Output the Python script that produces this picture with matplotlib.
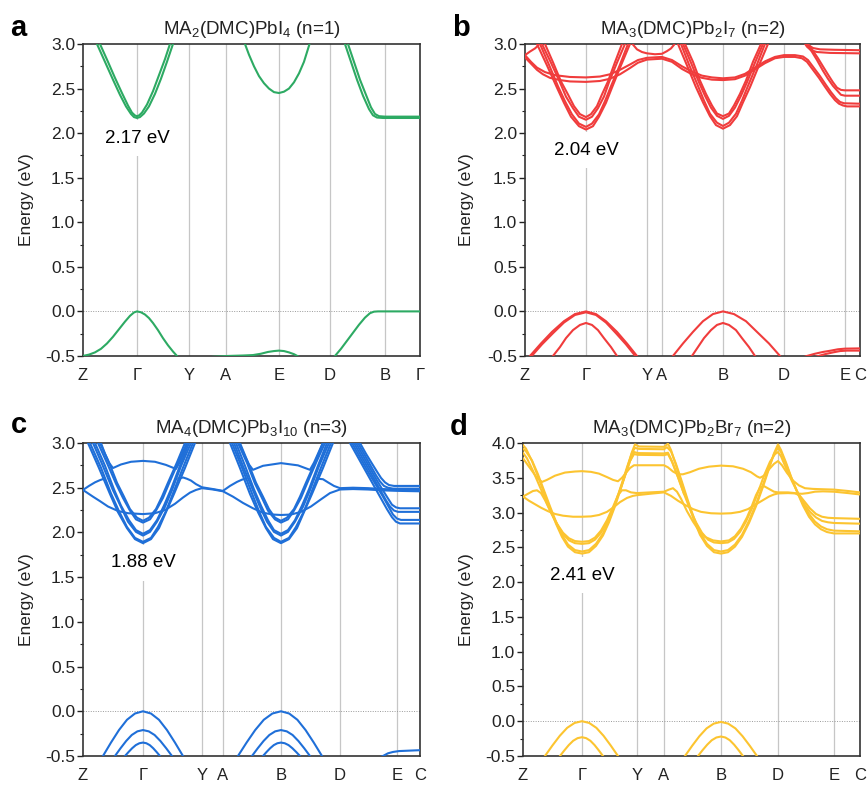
import matplotlib
matplotlib.use("Agg")
import matplotlib.pyplot as plt
from matplotlib.ticker import MultipleLocator, FormatStrFormatter

plt.rcParams["font.family"] = ["Liberation Sans", "DejaVu Sans"]
plt.rcParams["mathtext.fontset"] = "custom"
plt.rcParams["mathtext.rm"] = "Liberation Sans"
plt.rcParams["mathtext.it"] = "Liberation Sans:italic"
plt.rcParams["axes.unicode_minus"] = False

# ---------------------------------------------------------------- panel a
kpos_a = [0.0, 0.54, 1.06, 1.43, 1.96, 2.47, 3.02, 3.37]
klab_a = ["Z", "Γ", "Y", "A", "E", "D", "B", "Γ"]
gap_a = 2.17
bands_a = [
    [(0.04, 3.20), (0.14, 3.00), (0.22, 2.80), (0.30, 2.60), (0.37, 2.43), (0.43, 2.30), (0.48, 2.215),
     (0.51, 2.18), (0.54, 2.17), (0.57, 2.18), (0.61, 2.22), (0.66, 2.30), (0.72, 2.44), (0.78, 2.61),
     (0.84, 2.80), (0.90, 3.00), (0.96, 3.20)],
    [(0.07, 3.20), (0.17, 3.00), (0.25, 2.80), (0.32, 2.62), (0.39, 2.45), (0.45, 2.31), (0.49, 2.23),
     (0.52, 2.198), (0.54, 2.19), (0.56, 2.198), (0.59, 2.23), (0.64, 2.32), (0.70, 2.47), (0.76, 2.65),
     (0.82, 2.83), (0.87, 3.00), (0.92, 3.20)],
    [(1.56, 3.21), (1.61, 3.03), (1.66, 2.88), (1.71, 2.75), (1.76, 2.64), (1.81, 2.56), (1.86, 2.50),
     (1.91, 2.46), (1.96, 2.45), (2.01, 2.465), (2.06, 2.50), (2.11, 2.57), (2.16, 2.67), (2.21, 2.80),
     (2.26, 2.98), (2.30, 3.12)],
    [(2.58, 3.12), (2.62, 3.00), (2.68, 2.80), (2.74, 2.60), (2.80, 2.42), (2.86, 2.27), (2.90, 2.20),
     (2.94, 2.175), (3.00, 2.17), (3.20, 2.17), (3.37, 2.17)],
    [(2.61, 3.12), (2.65, 3.00), (2.71, 2.80), (2.77, 2.60), (2.83, 2.43), (2.88, 2.29), (2.92, 2.215),
     (2.96, 2.19), (3.02, 2.185), (3.20, 2.185), (3.37, 2.185)],
    [(0.00, -0.50), (0.06, -0.485), (0.12, -0.46), (0.18, -0.42), (0.24, -0.36), (0.30, -0.285),
     (0.36, -0.20), (0.42, -0.115), (0.47, -0.05), (0.51, -0.012), (0.54, 0.0),
     (0.58, -0.01), (0.62, -0.035), (0.66, -0.075), (0.70, -0.13), (0.75, -0.21), (0.80, -0.30),
     (0.85, -0.38), (0.90, -0.45), (0.94, -0.50), (0.98, -0.55)],
    [(1.30, -0.51), (1.45, -0.50), (1.60, -0.495), (1.70, -0.49), (1.78, -0.475), (1.85, -0.455),
     (1.91, -0.445), (1.96, -0.44), (2.01, -0.445), (2.06, -0.46), (2.11, -0.48), (2.16, -0.51), (2.20, -0.54)],
    [(2.48, -0.56), (2.52, -0.50), (2.58, -0.42), (2.64, -0.33), (2.70, -0.24), (2.76, -0.15),
     (2.82, -0.07), (2.87, -0.02), (2.91, -0.003), (2.95, 0.0), (3.37, 0.0)],
]

# ---------------------------------------------------------------- panel b
kpos_b = [0.0, 0.61, 1.22, 1.37, 1.98, 2.59, 3.20, 3.35]
klab_b = ["Z", "Γ", "Y", "A", "B", "D", "E", "C"]
gap_b = 2.04
bands_b = [
    [(0.00, 3.30), (0.02, 3.24), (0.12, 3.00), (0.22, 2.76), (0.32, 2.51), (0.39, 2.34), (0.46, 2.184),
     (0.54, 2.078), (0.61, 2.04), (0.68, 2.078), (0.74, 2.184), (0.81, 2.34), (0.87, 2.51), (0.96, 2.76),
     (1.05, 3.00), (1.14, 3.24), (1.30, 3.50), (1.44, 3.19), (1.53, 3.00), (1.62, 2.76), (1.71, 2.515),
     (1.78, 2.345), (1.85, 2.19), (1.91, 2.09), (1.98, 2.05), (2.05, 2.09), (2.12, 2.19), (2.18, 2.345),
     (2.25, 2.515), (2.34, 2.76), (2.43, 3.00), (2.52, 3.19), (2.60, 3.30), (2.80, 3.03), (2.86, 2.93),
     (2.92, 2.82), (2.98, 2.70), (3.03, 2.61), (3.08, 2.53), (3.12, 2.48), (3.16, 2.43), (3.20, 2.42),
     (3.35, 2.42)],
    [(0.00, 3.30), (0.06, 3.186), (0.15, 3.00), (0.24, 2.768), (0.33, 2.526), (0.40, 2.358), (0.47, 2.21),
     (0.54, 2.107), (0.61, 2.07), (0.67, 2.107), (0.74, 2.21), (0.80, 2.358), (0.86, 2.526), (0.95, 2.768),
     (1.03, 3.00), (1.11, 3.186), (1.30, 3.50), (1.48, 3.18), (1.56, 3.00), (1.64, 2.77), (1.73, 2.53),
     (1.79, 2.365), (1.85, 2.218), (1.92, 2.117), (1.98, 2.08), (2.04, 2.117), (2.11, 2.218), (2.17, 2.365),
     (2.23, 2.53), (2.32, 2.77), (2.40, 3.00), (2.48, 3.18), (2.60, 3.30), (2.81, 3.03), (2.87, 2.94),
     (2.93, 2.84), (2.99, 2.73), (3.04, 2.64), (3.08, 2.57), (3.12, 2.51), (3.16, 2.485), (3.20, 2.48),
     (3.35, 2.48)],
    [(0.00, 3.40), (0.08, 3.21), (0.17, 3.00), (0.26, 2.79), (0.35, 2.57), (0.41, 2.41), (0.48, 2.28),
     (0.54, 2.184), (0.61, 2.15), (0.67, 2.184), (0.73, 2.28), (0.79, 2.41), (0.84, 2.57), (0.92, 2.79),
     (1.00, 3.00), (1.08, 3.21), (1.30, 3.50), (1.50, 3.21), (1.58, 3.00), (1.66, 2.79), (1.74, 2.57),
     (1.80, 2.42), (1.86, 2.286), (1.92, 2.194), (1.98, 2.16), (2.04, 2.194), (2.10, 2.286), (2.16, 2.42),
     (2.22, 2.57), (2.30, 2.79), (2.38, 3.00), (2.46, 3.21), (2.60, 3.30), (2.79, 3.02), (2.82, 2.97),
     (2.86, 2.93), (2.92, 2.91), (3.05, 2.90), (3.35, 2.895)],
    [(0.00, 3.40), (0.12, 3.205), (0.20, 3.00), (0.28, 2.795), (0.36, 2.58), (0.43, 2.434), (0.49, 2.303),
     (0.55, 2.213), (0.61, 2.18), (0.66, 2.213), (0.72, 2.303), (0.77, 2.434), (0.83, 2.58), (0.90, 2.795),
     (0.97, 3.00), (1.04, 3.205), (1.30, 3.50), (1.52, 3.20), (1.60, 3.00), (1.68, 2.80), (1.75, 2.59),
     (1.81, 2.44), (1.87, 2.31), (1.92, 2.22), (1.98, 2.19), (2.04, 2.22), (2.09, 2.31), (2.15, 2.44),
     (2.21, 2.59), (2.28, 2.80), (2.36, 3.00), (2.44, 3.20), (2.60, 3.30), (2.80, 3.03), (2.83, 2.99),
     (2.88, 2.955), (2.95, 2.94), (3.10, 2.935), (3.35, 2.93)],
    [(0.00, 2.85), (0.06, 2.78), (0.12, 2.71), (0.18, 2.66), (0.25, 2.62), (0.35, 2.595), (0.45, 2.58),
     (0.61, 2.575), (0.75, 2.585), (0.85, 2.61), (0.95, 2.66), (1.05, 2.73), (1.13, 2.79), (1.22, 2.825),
     (1.37, 2.835), (1.47, 2.80), (1.57, 2.72), (1.67, 2.66), (1.77, 2.62), (1.87, 2.60), (1.98, 2.595),
     (2.10, 2.605), (2.20, 2.645), (2.30, 2.715), (2.40, 2.785), (2.50, 2.84), (2.59, 2.855), (2.70, 2.855),
     (2.77, 2.84), (2.82, 2.80), (2.88, 2.71), (2.94, 2.62), (3.00, 2.52), (3.05, 2.44), (3.10, 2.37),
     (3.14, 2.33), (3.18, 2.31), (3.22, 2.30), (3.35, 2.30)],
    [(0.00, 2.875), (0.06, 2.80), (0.12, 2.735), (0.20, 2.685), (0.30, 2.65), (0.45, 2.63), (0.61, 2.625),
     (0.75, 2.635), (0.85, 2.66), (0.95, 2.71), (1.05, 2.77), (1.13, 2.82), (1.22, 2.845), (1.37, 2.855),
     (1.47, 2.82), (1.57, 2.75), (1.67, 2.69), (1.77, 2.645), (1.87, 2.625), (1.98, 2.615), (2.10, 2.625),
     (2.20, 2.665), (2.30, 2.735), (2.40, 2.805), (2.50, 2.855), (2.59, 2.875), (2.70, 2.875), (2.78, 2.86),
     (2.83, 2.82), (2.89, 2.73), (2.95, 2.64), (3.01, 2.54), (3.06, 2.46), (3.11, 2.39), (3.15, 2.35),
     (3.19, 2.335), (3.35, 2.33)],
    [(0.00, 2.875), (0.05, 2.915), (0.10, 2.95), (0.13, 2.98), (0.16, 3.05)],
    [(0.95, 3.30), (1.06, 3.02), (1.12, 2.94), (1.17, 2.91), (1.22, 2.895), (1.30, 2.885), (1.37, 2.89),
     (1.42, 2.92), (1.46, 2.95), (1.49, 2.99), (1.52, 3.05), (1.56, 3.30)],
    [(0.00, -0.565), (0.05, -0.50), (0.16, -0.36), (0.27, -0.23), (0.39, -0.11), (0.50, -0.03), (0.61, 0.0),
     (0.71, -0.03), (0.81, -0.11), (0.92, -0.23), (1.02, -0.36), (1.12, -0.50), (1.22, -0.64)],
    [(0.00, -0.59), (0.06, -0.51), (0.17, -0.37), (0.28, -0.245), (0.39, -0.125), (0.50, -0.04), (0.61, -0.01),
     (0.71, -0.04), (0.81, -0.125), (0.91, -0.245), (1.01, -0.37), (1.11, -0.51), (1.21, -0.65)],
    [(0.22, -0.60), (0.28, -0.50), (0.35, -0.40), (0.41, -0.30), (0.48, -0.21), (0.55, -0.152), (0.61, -0.13),
     (0.67, -0.152), (0.73, -0.21), (0.79, -0.30), (0.86, -0.40), (0.92, -0.50), (0.98, -0.60)],
    [(1.38, -0.64), (1.48, -0.50), (1.58, -0.36), (1.68, -0.23), (1.78, -0.11), (1.88, -0.03), (1.98, 0.0),
     (2.09, -0.03), (2.21, -0.11), (2.32, -0.23), (2.44, -0.36), (2.55, -0.50), (2.66, -0.64)],
    [(1.61, -0.60), (1.67, -0.50), (1.73, -0.40), (1.79, -0.30), (1.86, -0.21), (1.92, -0.152), (1.98, -0.13),
     (2.04, -0.152), (2.11, -0.21), (2.17, -0.30), (2.24, -0.40), (2.30, -0.50), (2.36, -0.60)],
    [(2.75, -0.53), (2.82, -0.50), (2.90, -0.475), (2.98, -0.455), (3.06, -0.44), (3.13, -0.425),
     (3.20, -0.418), (3.35, -0.415)],
    [(2.85, -0.53), (2.92, -0.505), (3.00, -0.48), (3.08, -0.46), (3.15, -0.445), (3.22, -0.44), (3.35, -0.44)],
]

# ---------------------------------------------------------------- panel c
kpos_c = [0.0, 0.60, 1.19, 1.40, 1.98, 2.57, 3.14, 3.37]
klab_c = ["Z", "Γ", "Y", "A", "B", "D", "E", "C"]
gap_c = 1.88
bands_c = [
    [(0.00, 3.13), (0.05, 3.00), (0.16, 2.72), (0.27, 2.43), (0.35, 2.227), (0.44, 2.048), (0.52, 1.925),
     (0.60, 1.88), (0.68, 1.925), (0.76, 2.048), (0.83, 2.227), (0.91, 2.43), (1.02, 2.72), (1.12, 3.00),
     (1.22, 3.28), (1.30, 3.50), (1.37, 3.28), (1.47, 3.00), (1.57, 2.72), (1.67, 2.43), (1.75, 2.227),
     (1.83, 2.048), (1.90, 1.925), (1.98, 1.88), (2.06, 1.925), (2.14, 2.048), (2.21, 2.227), (2.29, 2.43),
     (2.40, 2.72), (2.50, 3.00), (2.60, 3.28), (2.62, 3.30), (2.67, 3.00), (2.75, 2.84), (2.83, 2.68),
     (2.91, 2.52), (2.98, 2.38), (3.04, 2.26), (3.09, 2.17), (3.13, 2.12), (3.17, 2.10), (3.37, 2.10)],
    [(0.00, 3.20), (0.07, 3.00), (0.18, 2.724), (0.28, 2.436), (0.36, 2.238), (0.44, 2.061), (0.52, 1.939),
     (0.60, 1.895), (0.68, 1.939), (0.75, 2.061), (0.83, 2.238), (0.90, 2.436), (1.00, 2.724), (1.10, 3.00),
     (1.20, 3.276), (1.30, 3.50), (1.39, 3.276), (1.49, 3.00), (1.59, 2.724), (1.69, 2.436), (1.76, 2.238),
     (1.83, 2.061), (1.91, 1.939), (1.98, 1.895), (2.06, 1.939), (2.13, 2.061), (2.21, 2.238), (2.28, 2.436),
     (2.38, 2.724), (2.48, 3.00), (2.58, 3.276), (2.64, 3.30), (2.69, 3.00), (2.77, 2.84), (2.85, 2.68),
     (2.93, 2.53), (3.00, 2.40), (3.06, 2.28), (3.10, 2.20), (3.14, 2.155), (3.18, 2.14), (3.37, 2.14)],
    [(0.00, 3.26), (0.10, 3.00), (0.20, 2.741), (0.30, 2.472), (0.38, 2.286), (0.45, 2.12), (0.53, 2.006),
     (0.60, 1.965), (0.67, 2.006), (0.74, 2.12), (0.82, 2.286), (0.89, 2.472), (0.98, 2.741), (1.08, 3.00),
     (1.18, 3.259), (1.30, 3.50), (1.42, 3.259), (1.51, 3.00), (1.60, 2.741), (1.70, 2.472), (1.77, 2.286),
     (1.84, 2.12), (1.91, 2.006), (1.98, 1.965), (2.05, 2.006), (2.12, 2.12), (2.20, 2.286), (2.27, 2.472),
     (2.36, 2.741), (2.46, 3.00), (2.56, 3.259), (2.66, 3.30), (2.71, 3.00), (2.78, 2.86), (2.85, 2.72),
     (2.92, 2.58), (2.98, 2.46), (3.03, 2.36), (3.07, 2.29), (3.11, 2.245), (3.15, 2.23), (3.37, 2.23)],
    [(0.00, 3.35), (0.02, 3.254), (0.12, 3.00), (0.22, 2.746), (0.31, 2.482), (0.38, 2.30), (0.46, 2.137),
     (0.53, 2.026), (0.60, 1.985), (0.67, 2.026), (0.74, 2.137), (0.81, 2.30), (0.88, 2.482), (0.97, 2.746),
     (1.06, 3.00), (1.15, 3.254), (1.30, 3.50), (1.44, 3.254), (1.53, 3.00), (1.62, 2.746), (1.71, 2.482),
     (1.78, 2.30), (1.85, 2.137), (1.91, 2.026), (1.98, 1.985), (2.05, 2.026), (2.12, 2.137), (2.19, 2.30),
     (2.26, 2.482), (2.35, 2.746), (2.44, 3.00), (2.53, 3.254), (2.68, 3.30), (2.73, 3.00), (2.80, 2.86),
     (2.87, 2.72), (2.94, 2.58), (3.00, 2.47), (3.05, 2.38), (3.09, 2.31), (3.13, 2.28), (3.17, 2.27),
     (3.37, 2.27)],
    [(0.00, 3.40), (0.06, 3.223), (0.15, 3.00), (0.24, 2.778), (0.33, 2.546), (0.40, 2.386), (0.47, 2.244),
     (0.53, 2.146), (0.60, 2.11), (0.67, 2.146), (0.73, 2.244), (0.80, 2.386), (0.86, 2.546), (0.95, 2.778),
     (1.04, 3.00), (1.13, 3.223), (1.30, 3.50), (1.46, 3.223), (1.55, 3.00), (1.64, 2.778), (1.72, 2.546),
     (1.79, 2.386), (1.85, 2.244), (1.92, 2.146), (1.98, 2.11), (2.05, 2.146), (2.11, 2.244), (2.18, 2.386),
     (2.24, 2.546), (2.33, 2.778), (2.42, 3.00), (2.51, 3.223), (2.70, 3.30), (2.75, 3.00), (2.82, 2.86),
     (2.88, 2.74), (2.93, 2.64), (2.97, 2.57), (3.01, 2.52), (3.05, 2.50), (3.10, 2.49), (3.37, 2.49)],
    [(0.00, 3.40), (0.08, 3.218), (0.17, 3.00), (0.26, 2.783), (0.34, 2.556), (0.41, 2.40), (0.47, 2.261),
     (0.54, 2.165), (0.60, 2.13), (0.66, 2.165), (0.73, 2.261), (0.79, 2.40), (0.85, 2.556), (0.94, 2.783),
     (1.02, 3.00), (1.10, 3.218), (1.30, 3.50), (1.49, 3.218), (1.57, 3.00), (1.65, 2.783), (1.73, 2.556),
     (1.80, 2.40), (1.86, 2.261), (1.92, 2.165), (1.98, 2.13), (2.04, 2.165), (2.11, 2.261), (2.17, 2.40),
     (2.23, 2.556), (2.32, 2.783), (2.40, 3.00), (2.48, 3.218), (2.72, 3.30), (2.77, 3.00), (2.83, 2.88),
     (2.89, 2.77), (2.94, 2.68), (2.98, 2.61), (3.02, 2.56), (3.06, 2.53), (3.11, 2.52), (3.37, 2.52)],
    [(0.00, 2.475), (0.10, 2.40), (0.17, 2.35), (0.25, 2.29), (0.35, 2.24), (0.45, 2.215), (0.60, 2.205),
     (0.72, 2.215), (0.82, 2.25), (0.92, 2.32), (1.00, 2.39), (1.07, 2.445), (1.13, 2.475), (1.19, 2.495),
     (1.30, 2.48), (1.40, 2.46), (1.50, 2.40), (1.60, 2.33), (1.70, 2.27), (1.80, 2.22), (1.90, 2.20),
     (1.98, 2.195), (2.08, 2.20), (2.18, 2.23), (2.28, 2.29), (2.38, 2.37), (2.47, 2.44), (2.57, 2.48),
     (2.70, 2.485), (2.85, 2.48), (3.00, 2.47), (3.14, 2.465), (3.37, 2.46)],
    [(0.12, 3.20), (0.17, 3.03), (0.22, 2.88), (0.26, 2.78), (0.30, 2.72), (0.38, 2.76), (0.48, 2.79),
     (0.60, 2.80), (0.72, 2.79), (0.83, 2.755), (0.93, 2.71), (0.97, 2.79), (1.01, 2.90), (1.05, 3.02),
     (1.10, 3.15), (1.30, 3.50), (1.52, 3.12), (1.57, 2.98), (1.62, 2.85), (1.66, 2.76), (1.70, 2.70),
     (1.80, 2.745), (1.98, 2.775), (2.15, 2.75), (2.27, 2.70), (2.31, 2.78), (2.35, 2.88), (2.39, 2.98),
     (2.43, 3.08), (2.60, 3.40)],
    [(0.00, 2.475), (0.06, 2.52), (0.12, 2.56), (0.17, 2.585), (0.21, 2.60)],
    [(0.955, 2.60), (1.00, 2.615), (1.04, 2.60), (1.08, 2.58), (1.13, 2.54), (1.19, 2.505), (1.30, 2.485),
     (1.40, 2.465), (1.47, 2.52), (1.54, 2.565), (1.59, 2.59), (1.62, 2.60)],
    [(2.35, 2.60), (2.40, 2.595), (2.45, 2.56), (2.51, 2.52), (2.57, 2.495), (2.70, 2.50), (2.85, 2.495),
     (3.00, 2.485), (3.14, 2.48), (3.37, 2.475)],
    [(0.12, -0.65), (0.20, -0.50), (0.28, -0.35), (0.36, -0.21), (0.44, -0.095), (0.52, -0.025), (0.60, 0.0),
     (0.68, -0.025), (0.76, -0.095), (0.84, -0.21), (0.92, -0.35), (1.00, -0.50), (1.08, -0.65)],
    [(0.264, -0.587), (0.32, -0.50), (0.376, -0.413), (0.432, -0.332), (0.488, -0.265), (0.544, -0.2245),
     (0.60, -0.21), (0.658, -0.2245), (0.716, -0.265), (0.774, -0.332), (0.832, -0.413), (0.89, -0.50),
     (0.948, -0.587)],
    [(0.384, -0.545), (0.42, -0.50), (0.456, -0.455), (0.492, -0.413), (0.528, -0.3785), (0.564, -0.3575),
     (0.60, -0.35), (0.634, -0.3575), (0.668, -0.3785), (0.702, -0.413), (0.736, -0.455), (0.77, -0.50),
     (0.804, -0.545)],
    [(1.464, -0.65), (1.55, -0.50), (1.636, -0.35), (1.722, -0.21), (1.808, -0.095), (1.894, -0.025),
     (1.98, 0.0), (2.062, -0.025), (2.144, -0.095), (2.226, -0.21), (2.308, -0.35), (2.39, -0.50), (2.472, -0.65)],
    [(1.632, -0.587), (1.69, -0.50), (1.748, -0.413), (1.806, -0.332), (1.864, -0.265), (1.922, -0.2245),
     (1.98, -0.21), (2.038, -0.2245), (2.096, -0.265), (2.154, -0.332), (2.212, -0.413), (2.27, -0.50),
     (2.328, -0.587)],
    [(1.764, -0.545), (1.80, -0.50), (1.836, -0.455), (1.872, -0.413), (1.908, -0.3785), (1.944, -0.3575),
     (1.98, -0.35), (2.018, -0.3575), (2.056, -0.3785), (2.094, -0.413), (2.132, -0.455), (2.17, -0.50),
     (2.208, -0.545)],
    [(2.94, -0.53), (3.00, -0.50), (3.05, -0.47), (3.10, -0.455), (3.16, -0.445), (3.37, -0.435)],
]

# ---------------------------------------------------------------- panel d
kpos_d = [0.0, 0.59, 1.14, 1.41, 1.98, 2.55, 3.11, 3.37]
klab_d = ["Z", "Γ", "Y", "A", "B", "D", "E", "C"]
gap_d = 2.41
bands_d = [
    [(0.00, 3.97), (0.03, 3.92), (0.09, 3.74), (0.15, 3.52), (0.21, 3.29), (0.27, 3.06), (0.33, 2.84),
     (0.39, 2.65), (0.45, 2.51), (0.52, 2.43), (0.59, 2.41), (0.66, 2.43), (0.73, 2.52), (0.80, 2.67),
     (0.86, 2.86), (0.92, 3.09), (0.98, 3.35), (1.04, 3.63), (1.09, 3.87), (1.12, 3.98), (1.16, 3.95),
     (1.41, 3.945), (1.45, 3.99), (1.48, 3.90), (1.53, 3.68), (1.59, 3.41), (1.65, 3.14), (1.71, 2.89),
     (1.77, 2.68), (1.84, 2.52), (1.91, 2.43), (1.98, 2.41), (2.05, 2.43), (2.12, 2.51), (2.19, 2.65),
     (2.26, 2.85), (2.33, 3.09), (2.40, 3.37), (2.46, 3.63), (2.51, 3.85), (2.55, 3.98), (2.58, 3.90),
     (2.63, 3.72), (2.68, 3.52), (2.74, 3.30), (2.80, 3.10), (2.86, 2.94), (2.92, 2.83), (2.98, 2.76),
     (3.04, 2.72), (3.11, 2.70), (3.37, 2.70)],
    [(0.00, 3.92), (0.03, 3.88), (0.09, 3.75), (0.15, 3.55), (0.21, 3.32), (0.27, 3.09), (0.33, 2.87),
     (0.39, 2.68), (0.45, 2.54), (0.52, 2.46), (0.59, 2.44), (0.66, 2.46), (0.73, 2.55), (0.80, 2.70),
     (0.86, 2.89), (0.92, 3.12), (0.98, 3.38), (1.04, 3.65), (1.09, 3.86), (1.12, 3.93), (1.16, 3.915),
     (1.41, 3.91), (1.44, 3.94), (1.48, 3.88), (1.53, 3.70), (1.59, 3.44), (1.65, 3.17), (1.71, 2.92),
     (1.77, 2.71), (1.84, 2.55), (1.91, 2.46), (1.98, 2.44), (2.05, 2.46), (2.12, 2.54), (2.19, 2.68),
     (2.26, 2.88), (2.33, 3.12), (2.40, 3.40), (2.46, 3.65), (2.51, 3.84), (2.55, 3.93), (2.58, 3.87),
     (2.63, 3.70), (2.68, 3.51), (2.74, 3.31), (2.80, 3.13), (2.86, 2.98), (2.92, 2.87), (2.98, 2.80),
     (3.04, 2.76), (3.11, 2.74), (3.37, 2.73)],
    [(0.00, 3.86), (0.04, 3.78), (0.10, 3.60), (0.16, 3.40), (0.22, 3.20), (0.28, 3.00), (0.34, 2.83),
     (0.40, 2.69), (0.46, 2.60), (0.52, 2.56), (0.59, 2.55), (0.66, 2.56), (0.72, 2.61), (0.78, 2.71),
     (0.84, 2.86), (0.90, 3.05), (0.96, 3.28), (1.02, 3.53), (1.07, 3.74), (1.11, 3.87), (1.15, 3.855),
     (1.41, 3.85), (1.45, 3.86), (1.49, 3.74), (1.55, 3.51), (1.61, 3.27), (1.67, 3.05), (1.73, 2.86),
     (1.79, 2.71), (1.85, 2.61), (1.91, 2.57), (1.98, 2.56), (2.05, 2.57), (2.11, 2.62), (2.17, 2.72),
     (2.23, 2.87), (2.29, 3.06), (2.35, 3.29), (2.41, 3.53), (2.47, 3.73), (2.52, 3.84), (2.55, 3.87),
     (2.58, 3.81), (2.63, 3.64), (2.69, 3.45), (2.75, 3.28), (2.81, 3.13), (2.87, 3.01), (2.93, 2.93),
     (2.99, 2.88), (3.05, 2.86), (3.11, 2.85), (3.37, 2.84)],
    [(0.00, 3.23), (0.05, 3.27), (0.10, 3.31), (0.14, 3.32), (0.18, 3.28), (0.22, 3.18), (0.28, 3.00),
     (0.34, 2.84), (0.40, 2.71), (0.46, 2.63), (0.52, 2.59), (0.59, 2.58), (0.66, 2.59), (0.72, 2.64),
     (0.78, 2.74), (0.84, 2.89), (0.90, 3.08), (0.95, 3.25), (0.99, 3.32), (1.03, 3.32), (1.08, 3.29),
     (1.14, 3.28), (1.27, 3.29), (1.41, 3.30), (1.46, 3.33), (1.50, 3.35), (1.54, 3.30), (1.58, 3.20),
     (1.64, 3.02), (1.70, 2.87), (1.76, 2.74), (1.82, 2.65), (1.90, 2.60), (1.98, 2.585), (2.06, 2.60),
     (2.12, 2.66), (2.18, 2.77), (2.24, 2.93), (2.29, 3.10), (2.33, 3.25), (2.37, 3.36), (2.41, 3.38),
     (2.46, 3.34), (2.51, 3.30), (2.55, 3.29), (2.65, 3.29), (2.72, 3.28), (2.77, 3.24), (2.82, 3.15),
     (2.87, 3.06), (2.93, 2.98), (2.99, 2.94), (3.05, 2.925), (3.11, 2.92), (3.37, 2.91)],
    [(0.00, 3.78), (0.04, 3.70), (0.09, 3.60), (0.14, 3.50), (0.19, 3.44), (0.24, 3.47), (0.32, 3.53),
     (0.42, 3.575), (0.52, 3.59), (0.59, 3.595), (0.68, 3.585), (0.76, 3.56), (0.84, 3.51), (0.90, 3.47),
     (0.95, 3.45), (0.99, 3.50), (1.03, 3.57), (1.07, 3.64), (1.11, 3.68), (1.14, 3.68), (1.41, 3.68),
     (1.45, 3.65), (1.50, 3.59), (1.55, 3.55), (1.60, 3.55), (1.67, 3.58), (1.76, 3.63), (1.86, 3.66),
     (1.98, 3.675), (2.10, 3.665), (2.20, 3.63), (2.28, 3.58), (2.34, 3.52), (2.37, 3.50), (2.41, 3.53),
     (2.46, 3.62), (2.51, 3.70), (2.55, 3.74), (2.59, 3.68), (2.64, 3.57), (2.70, 3.46), (2.76, 3.39),
     (2.82, 3.35), (2.90, 3.34), (3.00, 3.335), (3.11, 3.33), (3.25, 3.31), (3.37, 3.29)],
    [(0.00, 3.23), (0.06, 3.17), (0.12, 3.12), (0.18, 3.07), (0.25, 3.02), (0.32, 2.98), (0.40, 2.955),
     (0.50, 2.94), (0.59, 2.94), (0.68, 2.945), (0.76, 2.965), (0.84, 3.01), (0.91, 3.08), (0.97, 3.15),
     (1.04, 3.21), (1.10, 3.24), (1.14, 3.25), (1.27, 3.27), (1.41, 3.29), (1.48, 3.24), (1.55, 3.17),
     (1.62, 3.11), (1.70, 3.05), (1.78, 3.01), (1.88, 2.99), (1.98, 2.985), (2.08, 2.99), (2.17, 3.01),
     (2.25, 3.05), (2.32, 3.11), (2.39, 3.17), (2.46, 3.23), (2.51, 3.26), (2.55, 3.275), (2.65, 3.28),
     (2.73, 3.275), (2.79, 3.27), (2.85, 3.28), (2.92, 3.30), (3.00, 3.305), (3.11, 3.30), (3.25, 3.28),
     (3.37, 3.26)],
    [(0.96, 3.28), (1.02, 3.53), (1.07, 3.74), (1.11, 3.84), (1.15, 3.83), (1.41, 3.825), (1.45, 3.84),
     (1.49, 3.73), (1.55, 3.51), (1.61, 3.27)],
    [(0.146, -0.65), (0.22, -0.50), (0.294, -0.35), (0.368, -0.21), (0.442, -0.095), (0.516, -0.025),
     (0.59, 0.0), (0.662, -0.025), (0.734, -0.095), (0.806, -0.21), (0.878, -0.35), (0.95, -0.50), (1.022, -0.65)],
    [(0.326, -0.581), (0.37, -0.50), (0.414, -0.419), (0.458, -0.343), (0.502, -0.281), (0.546, -0.2435),
     (0.59, -0.23), (0.632, -0.2435), (0.674, -0.281), (0.716, -0.343), (0.758, -0.419), (0.80, -0.50),
     (0.842, -0.581)],
    [(1.548, -0.647), (1.62, -0.50), (1.692, -0.353), (1.764, -0.216), (1.836, -0.103), (1.908, -0.0345),
     (1.98, -0.01), (2.052, -0.0345), (2.124, -0.103), (2.196, -0.216), (2.268, -0.353), (2.34, -0.50),
     (2.412, -0.647)],
    [(1.704, -0.584), (1.75, -0.50), (1.796, -0.416), (1.842, -0.338), (1.888, -0.273), (1.934, -0.234),
     (1.98, -0.22), (2.024, -0.234), (2.068, -0.273), (2.112, -0.338), (2.156, -0.416), (2.20, -0.50),
     (2.244, -0.584)],
]


def draw_panel(ax, kpos, klab, bands, color, ymax, gap, gap_y, title, ylab_x):
    for kp in kpos[1:-1]:
        ax.axvline(kp, color="#c6c6c6", lw=0.9, zorder=1)
    ax.axhline(0.0, color="#9a9a9a", lw=0.7, ls=(0, (1, 1.5)), zorder=1)
    for band in bands:
        k = [p[0] for p in band]
        e = [p[1] for p in band]
        ax.plot(k, e, color=color, lw=1.5, zorder=3, solid_joinstyle="round")

    ax.text(kpos[1], gap_y, f"{gap:.2f} eV", ha="center", va="center", fontsize=13.5,
            zorder=2, bbox=dict(boxstyle="square,pad=0.5", fc="white", ec="none"))

    ax.set_xlim(kpos[0], kpos[-1])
    ax.set_ylim(-0.5, ymax)
    ax.set_xticks(kpos)
    ax.set_xticklabels(klab)
    ax.tick_params(axis="x", length=0, pad=9, labelsize=12, colors="#222222")
    ax.yaxis.set_major_locator(MultipleLocator(0.5))
    ax.yaxis.set_minor_locator(MultipleLocator(0.25))
    ax.yaxis.set_major_formatter(FormatStrFormatter("%.1f"))
    ax.tick_params(axis="y", which="major", direction="out", length=4, width=1.0,
                   labelsize=12.5, colors="#222222", pad=1.5)
    ax.tick_params(axis="y", which="minor", direction="out", length=2.5, width=0.8, colors="#222222")
    for sp in ax.spines.values():
        sp.set_color("#333333")
        sp.set_linewidth(1.2)
    ax.set_ylabel("Energy (eV)", fontsize=12.5, color="#222222")
    ax.yaxis.set_label_coords(ylab_x, 0.5)
    ax.set_title(title, fontsize=13.5, pad=7, color="#222222")


fig = plt.figure(figsize=(8.67, 7.87), dpi=100)
ax_a = fig.add_axes([0.0957, 0.5477, 0.3887, 0.3964])
ax_b = fig.add_axes([0.6055, 0.5477, 0.3864, 0.3964])
ax_c = fig.add_axes([0.0957, 0.0394, 0.3887, 0.3977])
ax_d = fig.add_axes([0.6032, 0.0394, 0.3887, 0.3977])

draw_panel(ax_a, kpos_a, klab_a, bands_a, "#2daa63", 3.0, gap_a, 1.945,
           "MA$_2$(DMC)PbI$_4$ (n=1)", -0.145)
draw_panel(ax_b, kpos_b, klab_b, bands_b, "#f03c3c", 3.0, gap_b, 1.81,
           "MA$_3$(DMC)Pb$_2$I$_7$ (n=2)", -0.152)
draw_panel(ax_c, kpos_c, klab_c, bands_c, "#1f6fd8", 3.0, gap_c, 1.66,
           "MA$_4$(DMC)Pb$_3$I$_{10}$ (n=3)", -0.145)
draw_panel(ax_d, kpos_d, klab_d, bands_d, "#fcc430", 4.0, gap_d, 2.10,
           "MA$_3$(DMC)Pb$_2$Br$_7$ (n=2)", -0.145)

for x, y, s in [(0.012, 0.954, "a"), (0.521, 0.954, "b"), (0.012, 0.450, "c"), (0.519, 0.447, "d")]:
    fig.text(x, y, s, fontsize=21, fontweight="bold", va="baseline", ha="left")

fig.savefig("out.png", dpi=100)
